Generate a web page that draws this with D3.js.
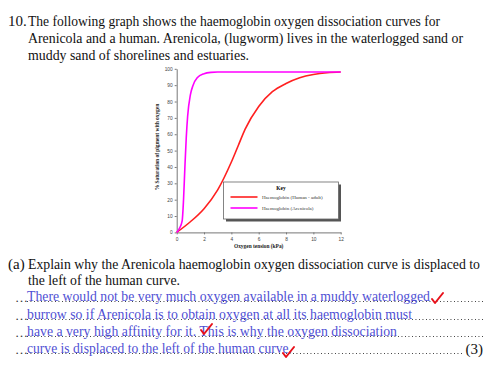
<!DOCTYPE html>
<html>
<head>
<meta charset="utf-8">
<style>
  body { margin: 0; background: #fff; }
  svg { display: block; font-family: 'Liberation Serif', 'Times New Roman', serif; }
  .axis .domain, .axis .tick line { stroke: #777; stroke-width: 1px; }
  .axis .tick text { font-size: 4.8px; fill: #444; }
  .q { font-size: 15px; fill: #111; }
  .pline { font-size: 14.2px; }
  .ans { font-size: 14px; fill: #5050d4; }
  .dots { font-size: 13px; fill: #333; }
</style>
</head>
<body>
<svg width="500" height="375"></svg>
<script src="https://d3js.org/d3.v7.min.js"></script>
<script>
// curve data
const humanPressure = [0, 1, 2, 3, 4, 4.5, 5, 6, 7, 8, 9, 10, 11, 12];
const humanSat = [0, 6.5, 14.5, 26, 43, 53, 63, 77, 86, 91, 94.5, 96.5, 97.6, 98];
const arenPressure = [0, 0.2, 0.4, 0.5, 0.6, 0.7, 0.8, 1.0, 1.2, 1.5, 2, 2.5, 3, 12];
const arenSat = [0, 2.5, 7, 20, 40, 58, 71, 84, 90, 94.5, 97, 97.8, 98, 98];

const xTicks = [0, 2, 4, 6, 8, 10, 12];
const yTicks = [0, 10, 20, 30, 40, 50, 60, 70, 80, 90, 100];

const seriesNames = ["Haemoglobin (Human - adult)", "Haemoglobin (Arenicola)"];
const seriesColors = ["#ff2020", "#ff00ff"];

const questionLines = [
  "The following graph shows the haemoglobin oxygen dissociation curves for",
  "Arenicola and a human. Arenicola, (lugworm) lives in the waterlogged sand or",
  "muddy sand of shorelines and estuaries."
];
const questionWidths = [412, 435, 221];
const partLines = [
  "Explain why the Arenicola haemoglobin oxygen dissociation curve is displaced to",
  "the left of the human curve."
];
const partWidths = [452, 152];
const answerLines = [
  "There would not be very much oxygen available in a muddy waterlogged",
  "burrow so if Arenicola is to obtain oxygen at all its haemoglobin must",
  "have a very high affinity for it. This is why the oxygen dissociation",
  "curve is displaced to the left of the human curve."
];
const answerWidths = [403, 385, 370, 265];

const svg = d3.select("svg");

// question text
svg.append("text").attr("class", "q").attr("x", 8).attr("y", 26).text("10.");
svg.selectAll(".qline").data(questionLines).join("text")
  .attr("class", "q qline")
  .attr("x", 28)
  .attr("y", (d, i) => 26 + i * 17)
  .attr("textLength", (d, i) => questionWidths[i])
  .attr("lengthAdjust", "spacingAndGlyphs")
  .text(d => d);

// chart
const x = d3.scaleLinear().domain([0, 12]).range([176.7, 340.7]);
const y = d3.scaleLinear().domain([0, 100]).range([232.4, 68.8]);

svg.append("g").attr("class", "axis")
  .attr("transform", `translate(0,${y(0)})`)
  .call(d3.axisBottom(x).tickValues(xTicks).tickSize(2).tickPadding(2).tickSizeOuter(0))
  .selectAll(".tick text").attr("dy", "0.9em");

svg.append("g").attr("class", "axis")
  .attr("transform", `translate(${x(0)},0)`)
  .call(d3.axisLeft(y).tickValues(yTicks).tickSize(2).tickPadding(2).tickSizeOuter(0));

svg.append("text")
  .attr("x", (x(0) + x(12)) / 2).attr("y", 248)
  .attr("text-anchor", "middle")
  .style("font-size", "5.4px").style("font-weight", "bold").style("fill", "#222")
  .text("Oxygen tension (kPa)");

svg.append("text")
  .attr("transform", `translate(159,147) rotate(-90)`)
  .attr("text-anchor", "middle")
  .style("font-size", "5.4px").style("font-weight", "bold").style("fill", "#222")
  .text("% Saturation of pigment with oxygen");

const line = d3.line()
  .x(d => x(d[0]))
  .y(d => y(d[1]))
  .curve(d3.curveMonotoneX);

svg.append("path")
  .attr("d", line(d3.zip(humanPressure, humanSat)))
  .attr("fill", "none").attr("stroke", seriesColors[0]).attr("stroke-width", 1.6);

svg.append("path")
  .attr("d", line(d3.zip(arenPressure, arenSat)))
  .attr("fill", "none").attr("stroke", seriesColors[1]).attr("stroke-width", 1.6);

// key
const key = svg.append("g").attr("transform", "translate(223.5,182)");
key.append("rect").attr("x", 2.5).attr("y", 2.5).attr("width", 115).attr("height", 37).attr("fill", "#555");
key.append("rect").attr("width", 115).attr("height", 37).attr("fill", "#fff").attr("stroke", "#666").attr("stroke-width", 0.8);
key.append("text").attr("x", 57.5).attr("y", 7.5).attr("text-anchor", "middle")
  .style("font-size", "5.4px").style("font-weight", "bold").text("Key");
seriesNames.forEach((name, i) => {
  const yy = 15 + i * 11;
  key.append("line").attr("x1", 7).attr("x2", 34).attr("y1", yy).attr("y2", yy)
    .attr("stroke", seriesColors[i]).attr("stroke-width", 1.6);
  key.append("text").attr("x", 38.5).attr("y", yy + 1.6)
    .style("font-size", "5px").style("fill", "#333").text(name);
});

// part (a)
svg.append("text").attr("class", "q").attr("x", 8).attr("y", 269).text("(a)");
svg.selectAll(".pline").data(partLines).join("text")
  .attr("class", "q pline")
  .attr("x", 28)
  .attr("y", (d, i) => 269 + i * 15.5)
  .attr("textLength", (d, i) => partWidths[i])
  .attr("lengthAdjust", "spacingAndGlyphs")
  .text(d => d);

// answer lines: dotted leaders with the written answer over them
const ansY = [302, 320, 337, 354];
ansY.forEach((yy, i) => {
  svg.append("text").attr("class", "dots").attr("x", 15).attr("y", yy).text("…");
  svg.append("line")
    .attr("x1", 27).attr("x2", i === 3 ? 464 : 483)
    .attr("y1", yy - 0.5).attr("y2", yy - 0.5)
    .attr("stroke", "#333").attr("stroke-width", 1.1)
    .attr("stroke-dasharray", "0.9 2.6");
});
svg.selectAll(".aline").data(answerLines).join("text")
  .attr("class", "ans aline")
  .attr("x", 27)
  .attr("y", (d, i) => ansY[i] - 1)
  .attr("textLength", (d, i) => answerWidths[i])
  .attr("lengthAdjust", "spacingAndGlyphs")
  .text(d => d);
svg.append("text").attr("class", "q").attr("x", 483).attr("y", 354)
  .attr("text-anchor", "end").text("(3)");

// red ticks from the marker (left x, bottom y)
const checks = [[432, 303], [201, 334], [283, 357]];
checks.forEach(([tx, ty]) => {
  svg.append("path")
    .attr("d", `M${tx},${ty - 4} L${tx + 3},${ty} L${tx + 11},${ty - 10}`)
    .attr("fill", "none").attr("stroke", "#e8101a").attr("stroke-width", 2)
    .attr("stroke-linecap", "round").attr("stroke-linejoin", "round");
});
</script>
</body>
</html>
